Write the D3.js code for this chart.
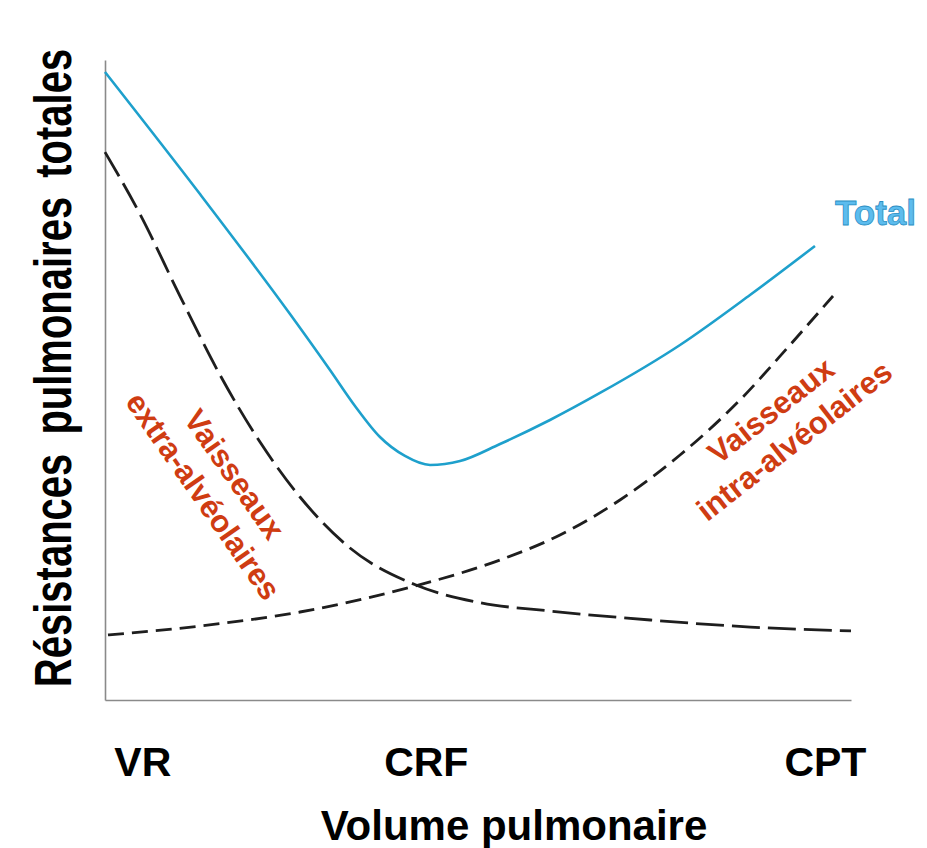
<!DOCTYPE html>
<html>
<head>
<meta charset="utf-8">
<title>Résistances pulmonaires</title>
<script src="https://cdn.jsdelivr.net/npm/d3@7"></script>
<style>
  body { margin: 0; background: #fff; }
  text { font-family: "Liberation Sans", Arial, sans-serif; font-weight: bold; }
  .axis path { stroke: #8a8a8a; stroke-width: 1.6; }
</style>
</head>
<body>
<svg id="graph" width="927" height="848"></svg>
<script>
// values (volume 0..100, resistance 0..100)
var tickVals = [5, 43, 96.5];
var tickNames = ["VR", "CRF", "CPT"];

var totalX = [0, 12.73, 24.8, 30.16, 33.51, 36.86, 40.21, 43.57, 47.59, 52.95, 59.65, 66.35, 77.08, 86.46, 95.17];
var totalY = [98.13, 79.06, 60.31, 51.56, 45.94, 41.09, 38.13, 36.72, 37.34, 40.0, 43.75, 47.97, 55.47, 63.28, 70.94];

var extraX = [0, 4.7, 10.1, 15.42, 20.78, 26.14, 32.84, 41.6, 50.3, 59.7, 73.1, 86.5, 100];
var extraY = [85.6, 75.9, 63.0, 50.78, 40.31, 31.72, 23.75, 18.0, 15.2, 13.9, 12.5, 11.4, 10.8];

var intraX = [0.4, 12.73, 26.14, 41.55, 52.95, 60.99, 69.03, 77.08, 85.12, 91.82, 97.59];
var intraY = [10.16, 11.56, 13.75, 17.81, 21.88, 25.78, 31.25, 38.28, 46.88, 55.47, 63.13];

var svg = d3.select("#graph");

var x = d3.scaleLinear().domain([0, 100]).range([105, 851]);
var y = d3.scaleLinear().domain([0, 100]).range([700, 60]);

// axes
svg.append("g")
  .attr("class", "axis")
  .attr("transform", "translate(0,700)")
  .call(d3.axisBottom(x).tickValues(tickVals).tickSize(0).tickSizeOuter(0).tickPadding(47)
    .tickFormat(function(d, i) { return tickNames[i]; }))
  .call(g => g.selectAll("text").attr("fill", "#000").style("font-size", "41px")
    .style("font-family", "'Liberation Sans', Arial, sans-serif").style("font-weight", "bold"));

svg.append("g")
  .attr("class", "axis")
  .attr("transform", "translate(105,0)")
  .call(d3.axisLeft(y).tickValues([]).tickSizeOuter(0));

var line = d3.line()
  .x(d => x(d[0]))
  .y(d => y(d[1]))
  .curve(d3.curveMonotoneX);

svg.append("path")
  .attr("d", line(d3.zip(extraX, extraY)))
  .attr("fill", "none")
  .attr("stroke", "#1e1e1e")
  .attr("stroke-width", 2.8)
  .attr("stroke-dasharray", "28,8");

svg.append("path")
  .attr("d", line(d3.zip(intraX, intraY)))
  .attr("fill", "none")
  .attr("stroke", "#1e1e1e")
  .attr("stroke-width", 2.8)
  .attr("stroke-dasharray", "16,8");

svg.append("path")
  .attr("d", line(d3.zip(totalX, totalY)))
  .attr("fill", "none")
  .attr("stroke", "#1ea0cc")
  .attr("stroke-width", 2.6);

// labels
svg.append("text")
  .attr("x", 835)
  .attr("y", 225)
  .text("Total")
  .style("font-size", "35px")
  .attr("fill", "#5cbcee")
  .attr("stroke", "#2b8fc4")
  .attr("stroke-width", 0.8);

var red = "#cf3c12";

var g1 = svg.append("g")
  .attr("transform", "translate(" + x(15.3) + "," + y(33.6) + ") rotate(55)");
g1.append("text").attr("text-anchor", "middle").attr("y", -8)
  .attr("fill", red).style("font-size", "31px").text("Vaisseaux");
g1.append("text").attr("text-anchor", "middle").attr("y", 30)
  .attr("fill", red).style("font-size", "31px").text("extra-alvéolaires");

var g2 = svg.append("g")
  .attr("transform", "translate(" + x(90.8) + "," + y(42.9) + ") rotate(-38)");
g2.append("text").attr("text-anchor", "middle").attr("y", -8)
  .attr("fill", red).style("font-size", "31px").text("Vaisseaux");
g2.append("text").attr("text-anchor", "middle").attr("y", 30)
  .attr("fill", red).style("font-size", "31px").text("intra-alvéolaires");

// axis titles
svg.append("text")
  .attr("transform", "translate(71,368) rotate(-90) scale(1,1.3)")
  .attr("text-anchor", "middle")
  .style("font-size", "40px")
  .style("word-spacing", "8px")
  .text("Résistances pulmonaires totales");

svg.append("text")
  .attr("x", 514)
  .attr("y", 840)
  .attr("text-anchor", "middle")
  .style("font-size", "42px")
  .text("Volume pulmonaire");
</script>
</body>
</html>
